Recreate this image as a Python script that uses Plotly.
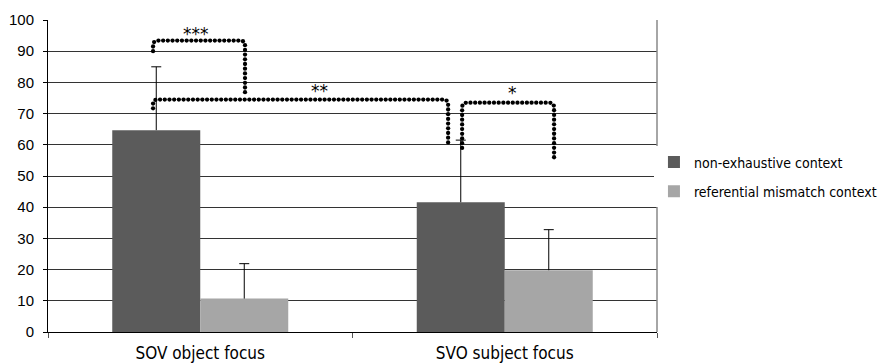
import math
import plotly.graph_objects as go

categories = ["SOV object focus", "SVO subject focus"]
series_names = ["non-exhaustive context", "referential mismatch context"]
non_exhaustive = [64.7, 41.6]
non_exhaustive_err = [20.3, 19.9]
mismatch = [10.7, 19.8]
mismatch_err = [11.2, 13.0]
y_ticks = [0, 10, 20, 30, 40, 50, 60, 70, 80, 90, 100]

# significance brackets (data coords: x = category index, y = percent)
brackets = [
    [(-0.155, 90.0), (-0.155, 93.4), (0.147, 93.4), (0.147, 76.5)],
    [(-0.155, 71.7), (-0.155, 74.5), (0.814, 74.5), (0.814, 60.0)],
    [(0.860, 59.0), (0.860, 73.5), (1.162, 73.5), (1.162, 56.0)],
]
stars = [("***", -0.014, 93.6), ("**", 0.39, 75.4), ("*", 1.024, 74.6)]

FONT = "DejaVu Sans Condensed, Liberation Sans Narrow, Arial Narrow, sans-serif"
# the page body has an 8px margin, so the figure is drawn 8px smaller
W, H = 885, 355
ML, MT = 40, 12
PW, PH = 609, 312
MR, MB = W - ML - PW, H - MT - PH
XR = (-0.5, 1.5)
YR = (0, 100)
sx = PW / (XR[1] - XR[0])
sy = PH / (YR[1] - YR[0])
BARGAP = 0.422
BAR_W = (1 - BARGAP) / 2


def dots_along(path, spacing=4.7, radius=5.0):
    pts = [(x * sx, y * sy) for x, y in path]
    fine = [pts[0]]
    for i in range(1, len(pts) - 1):
        p0, p1, p2 = pts[i - 1], pts[i], pts[i + 1]
        d1 = (p1[0] - p0[0], p1[1] - p0[1])
        d2 = (p2[0] - p1[0], p2[1] - p1[1])
        l1 = math.hypot(*d1)
        l2 = math.hypot(*d2)
        r = min(radius, l1 / 2, l2 / 2)
        a = (p1[0] - d1[0] / l1 * r, p1[1] - d1[1] / l1 * r)
        b = (p1[0] + d2[0] / l2 * r, p1[1] + d2[1] / l2 * r)
        for k in range(11):
            t = k / 10
            qx = (1 - t) ** 2 * a[0] + 2 * (1 - t) * t * p1[0] + t ** 2 * b[0]
            qy = (1 - t) ** 2 * a[1] + 2 * (1 - t) * t * p1[1] + t ** 2 * b[1]
            fine.append((qx, qy))
    fine.append(pts[-1])
    out = [fine[0]]
    carry = 0.0
    for i in range(1, len(fine)):
        x0, y0 = fine[i - 1]
        x1, y1 = fine[i]
        seg = math.hypot(x1 - x0, y1 - y0)
        if seg == 0:
            continue
        pos = spacing - carry
        while pos <= seg:
            t = pos / seg
            out.append((x0 + (x1 - x0) * t, y0 + (y1 - y0) * t))
            pos += spacing
        carry = seg - (pos - spacing)
    return [p[0] / sx for p in out], [p[1] / sy for p in out]


def whiskers(xc, vals, errs, offset, cap_px=5):
    cw = cap_px / sx
    xs, ys = [], []
    for x, v, e in zip(xc, vals, errs):
        cx = x + offset
        xs += [cx, cx, None, cx - cw, cx + cw, None]
        ys += [v, v + e, None, v + e, v + e, None]
    return xs, ys


fig = go.Figure()
xpos = list(range(len(categories)))
fig.add_trace(go.Bar(
    x=xpos, y=non_exhaustive, name=series_names[0], marker_color="#5b5b5b",
    marker_line_width=0, legendgroup="a",
))
fig.add_trace(go.Bar(
    x=xpos, y=mismatch, name=series_names[1], marker_color="#a6a6a6",
    marker_line_width=0, legendgroup="b",
))

for vals, errs, off in [(non_exhaustive, non_exhaustive_err, -BAR_W / 2),
                        (mismatch, mismatch_err, BAR_W / 2)]:
    wx, wy = whiskers(xpos, vals, errs, off)
    fig.add_trace(go.Scatter(x=wx, y=wy, mode="lines", showlegend=False,
                             hoverinfo="skip",
                             line=dict(color="black", width=1)))

for br in brackets:
    bx, by = dots_along(br)
    fig.add_trace(go.Scatter(x=bx, y=by, mode="markers", showlegend=False,
                             hoverinfo="skip",
                             marker=dict(size=4.3, color="black")))

for txt, x, y in stars:
    fig.add_annotation(x=x, y=y, text=txt, showarrow=False, yanchor="bottom",
                       font=dict(size=17, color="black", family="DejaVu Sans"),
                       yshift=-6)

fig.update_layout(
    width=W, height=H,
    margin=dict(l=ML, r=MR, t=MT, b=MB, autoexpand=False),
    paper_bgcolor="white", plot_bgcolor="white",
    barmode="group", bargap=BARGAP, bargroupgap=0,
    font=dict(family=FONT, size=14, color="black"),
    legend=dict(x=0.995, xanchor="left", y=0.497, yanchor="middle",
                font=dict(size=14, family=FONT), itemwidth=30,
                tracegroupgap=8),
    xaxis=dict(range=list(XR), tickvals=xpos, ticktext=categories,
               ticks="", showgrid=False, zeroline=False, automargin=False,
               showline=True, linecolor="black", linewidth=1,
               tickfont=dict(size=17, family=FONT), ticklabelstandoff=6,
               minor=dict(tickvals=[-0.5, 0.5, 1.5], ticks="outside",
                          ticklen=5, tickcolor="#555", showgrid=False)),
    yaxis=dict(range=list(YR), tickvals=y_ticks, ticks="outside", ticklen=4,
               tickcolor="black", showgrid=True, gridcolor="#333333",
               gridwidth=1, zeroline=False, showline=True, linecolor="black",
               linewidth=1, ticklabelstandoff=6, automargin=False,
               tickfont=dict(size=15, family="Liberation Sans, Arial, sans-serif")),
)
fig.add_shape(type="line", xref="paper", yref="paper", x0=1, x1=1, y0=0, y1=1,
              line=dict(color="#888", width=1.5))

fig.write_html("out.html")
